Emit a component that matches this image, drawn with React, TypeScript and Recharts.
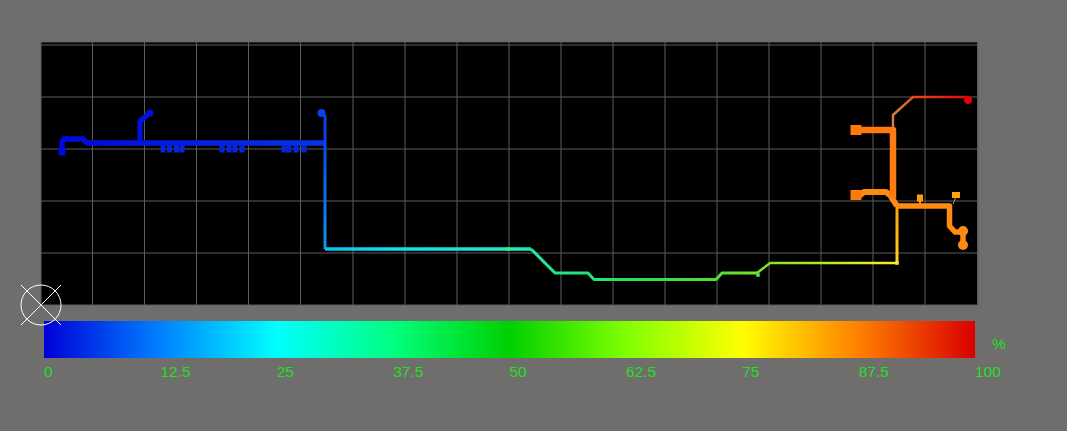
import { Area, CartesianGrid, ComposedChart, Line, XAxis, YAxis } from "recharts";

const WIDTH = 1067;
const HEIGHT = 431;

const xTicks = [0, 51.5, 103.5, 155.5, 207.5, 259.5, 312, 364, 416, 468, 520, 572, 624, 676, 728, 780, 832, 884, 936.5];
const yTicks = [0, 52, 104, 156, 208, 260];

// pipe runs, distance along / height in plot units
const inlet = [[21, 153], [21, 163], [23, 166], [42, 166], [46, 162], [284, 162]];
const stub = [[99, 162], [99, 184], [109, 192]];
const rise = [[284, 162], [284, 189], [280.5, 192]];
const drop = [[284, 162], [284, 56]];
const wideRun = [[284, 56], [490, 56]];
const longRun = [[490, 56], [514, 32], [547, 32], [553, 25.5], [675, 25.5], [681, 32], [716, 32]];
const thinRun = [[716, 32], [729, 42], [856, 42]];
const climb = [[856, 42], [856, 99]];
const rightArm = [[856, 99], [908.5, 99], [908.5, 79], [914, 73], [922, 73], [922, 60]];
const midArm = [[856, 99], [849, 110], [845, 113], [823, 113], [819, 110], [815, 110]];
const upperArm = [[852, 107], [852, 175], [815, 175]];
const thinArm = [[852, 175], [852, 190], [872, 208], [926, 208], [927, 205]];
const branchA = [[879, 99], [879, 107]];
const branchB = [[912, 101], [915, 108]];

const studs = [[122, 156], [128.5, 156], [135.5, 156], [141, 156], [181, 156], [188, 156], [194, 156], [201, 156], [243, 156], [248, 156], [255, 156], [263, 156]];
const greenNodes = [[467, 56], [717, 30]];
const yellowNodes = [[856, 42]];

const scaleTicks = [0, 12.5, 25, 37.5, 50, 62.5, 75, 87.5, 100];
const scaleColors = ["#0000d8", "#0080ff", "#00ffff", "#00ff80", "#00d000", "#80ff00", "#ffff00", "#ff8000", "#d80000"];

const toPoints = (rows: number[][]) => rows.map(([x, y]) => ({ x, y }));
const scaleData = scaleTicks.map((pct) => ({ pct, v: 1 }));

const pipe = (key: string, rows: number[][], color: string, width: number) => (
  <Line
    key={key}
    data={toPoints(rows)}
    dataKey="y"
    stroke={color}
    strokeWidth={width}
    strokeLinejoin="round"
    dot={false}
    activeDot={false}
    isAnimationActive={false}
  />
);

const marks = (key: string, rows: number[][], shape: (cx: number, cy: number) => any) => (
  <Line
    key={key}
    data={toPoints(rows)}
    dataKey="y"
    stroke="none"
    activeDot={false}
    isAnimationActive={false}
    dot={(p: any) => <g key={`${key}-${p.index}`}>{shape(p.cx, p.cy)}</g>}
  />
);

const circle = (r: number, fill: string) => (cx: number, cy: number) => <circle cx={cx} cy={cy} r={r} fill={fill} />;
const block = (w: number, h: number, fill: string) => (cx: number, cy: number) => (
  <rect x={cx - w / 2} y={cy - h / 2} width={w} height={h} fill={fill} />
);
const compass = (cx: number, cy: number) => (
  <g stroke="#fff" strokeWidth={1} fill="none">
    <circle cx={cx} cy={cy} r={20} />
    <line x1={cx - 20} y1={cy - 20} x2={cx + 20} y2={cy + 20} />
    <line x1={cx - 20} y1={cy + 20} x2={cx + 20} y2={cy - 20} />
  </g>
);

function ScaleTick({ x, payload }: any) {
  return (
    <text x={x} y={377} textAnchor="start" fill="#22e022" fontSize={15.5} fontFamily="Liberation Sans">
      {payload.value}
    </text>
  );
}

function ColorScale() {
  return (
    <ComposedChart
      width={WIDTH}
      height={HEIGHT}
      data={scaleData}
      margin={{ top: 321, left: 44, right: WIDTH - 975, bottom: 0 }}
      style={{ position: "absolute", left: 0, top: 0 }}
    >
      <defs>
        <linearGradient id="scaleFill" x1="0" y1="0" x2="1" y2="0">
          {scaleTicks.map((pct, i) => (
            <stop key={pct} offset={`${pct}%`} stopColor={scaleColors[i]} />
          ))}
        </linearGradient>
      </defs>
      <XAxis
        dataKey="pct"
        type="number"
        domain={[0, 100]}
        ticks={scaleTicks}
        interval={0}
        axisLine={false}
        tickLine={false}
        height={HEIGHT - 358}
        tick={<ScaleTick />}
      />
      <YAxis type="number" domain={[0, 1]} hide />
      <Area type="linear" dataKey="v" stroke="none" fill="url(#scaleFill)" fillOpacity={1} dot={false} activeDot={false} isAnimationActive={false} />
    </ComposedChart>
  );
}

function Network() {
  return (
    <ComposedChart
      width={WIDTH}
      height={HEIGHT}
      margin={{ top: 42, left: 41, right: WIDTH - 978, bottom: HEIGHT - 305 }}
      style={{ position: "absolute", left: 0, top: 0 }}
    >
      <defs>
        <linearGradient id="inletFill" gradientUnits="userSpaceOnUse" x1="62" y1="0" x2="325" y2="0">
          <stop offset="0%" stopColor="#0008dc" />
          <stop offset="100%" stopColor="#0834e4" />
        </linearGradient>
        <linearGradient id="dropFill" gradientUnits="userSpaceOnUse" x1="0" y1="143" x2="0" y2="249">
          <stop offset="0%" stopColor="#0a48e8" />
          <stop offset="100%" stopColor="#0a98f0" />
        </linearGradient>
        <linearGradient id="runFill" gradientUnits="userSpaceOnUse" x1="325" y1="0" x2="897" y2="0">
          <stop offset="0%" stopColor="#0cc0f0" />
          <stop offset="12%" stopColor="#10e0f0" />
          <stop offset="32%" stopColor="#20e8c8" />
          <stop offset="40%" stopColor="#20e888" />
          <stop offset="55%" stopColor="#28e050" />
          <stop offset="68%" stopColor="#50dc30" />
          <stop offset="77%" stopColor="#80e428" />
          <stop offset="100%" stopColor="#f8f020" />
        </linearGradient>
        <linearGradient id="climbFill" gradientUnits="userSpaceOnUse" x1="0" y1="263" x2="0" y2="206">
          <stop offset="0%" stopColor="#ffd020" />
          <stop offset="100%" stopColor="#ffa010" />
        </linearGradient>
        <linearGradient id="thinFill" gradientUnits="userSpaceOnUse" x1="893" y1="0" x2="968" y2="0">
          <stop offset="0%" stopColor="#d88040" />
          <stop offset="30%" stopColor="#e84810" />
          <stop offset="100%" stopColor="#e00808" />
        </linearGradient>
      </defs>
      <CartesianGrid fill="#000" stroke="#5c5c5c" strokeWidth={1} />
      <XAxis dataKey="x" type="number" domain={[0, 937]} ticks={xTicks} hide />
      <YAxis dataKey="y" type="number" domain={[0, 263]} ticks={yTicks} hide />

      {marks("studs", studs, block(5, 7, "#0824dc"))}
      {pipe("inlet", inlet, "url(#inletFill)", 5.5)}
      {pipe("stub", stub, "#0010e0", 5)}
      {pipe("rise", rise, "#0a40e8", 3)}
      {pipe("drop", drop, "url(#dropFill)", 3)}
      {pipe("wide", wideRun, "url(#runFill)", 3.5)}
      {pipe("run", longRun, "url(#runFill)", 3)}
      {pipe("thinRun", thinRun, "url(#runFill)", 2.4)}
      {pipe("climb", climb, "url(#climbFill)", 3)}
      {pipe("thin", thinArm, "url(#thinFill)", 2.4)}
      {pipe("branchA", branchA, "#ff9a10", 2)}
      {pipe("branchB", branchB, "#d89040", 1)}
      {pipe("right", rightArm, "#ff8c10", 5.5)}
      {pipe("mid", midArm, "#ff8a10", 6)}
      {pipe("upper", upperArm, "#ff7a10", 6.5)}

      {marks("inletEnd", [[21, 153]], block(7, 7, "#0008dc"))}
      {marks("stubEnd", [[109, 192]], circle(3.5, "#0010e0"))}
      {marks("riseEnd", [[280.5, 192]], circle(4, "#0a40e8"))}
      {marks("greenNodes", greenNodes, block(3.5, 3.5, "#50e860"))}
      {marks("yellowNodes", yellowNodes, block(3.5, 3.5, "#f8e830"))}
      {marks("blocks", [[815, 175], [815, 110]], block(11, 10, "#ff7a08"))}
      {marks("tabs", [[879, 107]], block(6, 7, "#ff9a10"))}
      {marks("tabs2", [[915, 110]], block(8, 6, "#ffa010"))}
      {marks("ends", [[922, 74], [922, 60]], circle(5, "#ff8c10"))}
      {marks("outlet", [[927, 205]], circle(4, "#e00010"))}
      {marks("compass", [[0, 0]], compass)}
    </ComposedChart>
  );
}

export default function App() {
  return (
    <div style={{ position: "absolute", left: 0, top: 0, width: WIDTH, height: HEIGHT, background: "#6f6e6c", overflow: "hidden" }}>
      <ColorScale />
      <Network />
      <div style={{ position: "absolute", left: 992, top: 335, color: "#22e022", fontSize: 15.5, fontFamily: "Liberation Sans" }}>%</div>
    </div>
  );
}
